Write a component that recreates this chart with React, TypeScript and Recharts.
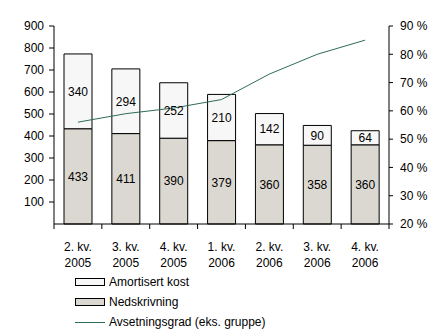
import { Bar, ComposedChart, LabelList, Line, XAxis, YAxis } from "recharts";

const quarters = [
  "2. kv.\n2005",
  "3. kv.\n2005",
  "4. kv.\n2005",
  "1. kv.\n2006",
  "2. kv.\n2006",
  "3. kv.\n2006",
  "4. kv.\n2006",
];
const nedskrivning = [433, 411, 390, 379, 360, 358, 360];
const amortisertKost = [340, 294, 252, 210, 142, 90, 64];
const avsetningsgrad = [56, 59, 61, 64, 73, 80, 85];
const leftTicks = [100, 200, 300, 400, 500, 600, 700, 800, 900];
const rightTicks = [20, 30, 40, 50, 60, 70, 80, 90];

const data = quarters.map((q, i) => ({
  name: q,
  ned: nedskrivning[i],
  amo: amortisertKost[i],
  grad: avsetningsgrad[i],
}));

const FONT = "'Liberation Sans', Arial, sans-serif";
const LINE_COLOR = "#2f6b5a";
const HALF_BAND = 335 / 7 / 2;

function QuarterTick(props: any) {
  const { x, y, payload, index } = props;
  const [a, b] = String(payload.value).split("\n");
  return (
    <g>
      <line x1={x - HALF_BAND} x2={x - HALF_BAND} y1={y} y2={y + 5} stroke="#000" />
      {index === quarters.length - 1 && (
        <line x1={x + HALF_BAND} x2={x + HALF_BAND} y1={y} y2={y + 5} stroke="#000" />
      )}
      <text x={x} y={y + 27} textAnchor="middle" fontSize={12} fill="#000">
        {a}
      </text>
      <text x={x} y={y + 43} textAnchor="middle" fontSize={12} fill="#000">
        {b}
      </text>
    </g>
  );
}

function LegendBox() {
  const row = { position: "absolute" as const, left: 75, height: 14, display: "flex", alignItems: "center", fontSize: 12, fontFamily: FONT, color: "#000" };
  const box = (fill: string) => ({ width: 28, height: 6, border: "1px solid #000", background: fill, marginRight: 4 });
  return (
    <>
      <div style={{ ...row, top: 275 }}>
        <div style={box("#f7f7f7")} />
        <span>Amortisert kost</span>
      </div>
      <div style={{ ...row, top: 295 }}>
        <div style={box("#dbd8d1")} />
        <span>Nedskrivning</span>
      </div>
      <div style={{ ...row, top: 315 }}>
        <div style={{ width: 30, height: 1, background: LINE_COLOR, marginRight: 4 }} />
        <span>Avsetningsgrad (eks. gruppe)</span>
      </div>
    </>
  );
}

export default function App() {
  return (
    <div style={{ position: "absolute", left: 0, top: 0, width: 433, height: 329, background: "#fff" }}>
      <ComposedChart
        width={433}
        height={329}
        data={data}
        margin={{ top: 26, right: 0, bottom: 65, left: 0 }}
        style={{ fontFamily: FONT }}
      >
        <XAxis
          dataKey="name"
          height={40}
          interval={0}
          tickLine={false}
          tickSize={0}
          tickMargin={0}
          stroke="#000"
          tick={<QuarterTick />}
        />
        <YAxis
          yAxisId="left"
          width={54}
          domain={[0, 900]}
          ticks={leftTicks}
          tickSize={5}
          tickMargin={5}
          stroke="#000"
          tick={{ fill: "#000", fontSize: 12 }}
        />
        <YAxis
          yAxisId="right"
          orientation="right"
          width={44}
          domain={[20, 90]}
          ticks={rightTicks}
          tickSize={4}
          tickMargin={7}
          stroke="#000"
          tick={{ fill: "#000", fontSize: 12 }}
          tickFormatter={(v) => `${v} %`}
        />
        <Bar yAxisId="left" dataKey="ned" stackId="s" barSize={28} fill="#dbd8d1" stroke="#000" isAnimationActive={false}>
          <LabelList dataKey="ned" position="center" fill="#000" fontSize={12} />
        </Bar>
        <Bar yAxisId="left" dataKey="amo" stackId="s" barSize={28} fill="#f7f7f7" stroke="#000" isAnimationActive={false}>
          <LabelList dataKey="amo" position="center" fill="#000" fontSize={12} />
        </Bar>
        <Line
          yAxisId="right"
          dataKey="grad"
          type="linear"
          stroke={LINE_COLOR}
          strokeWidth={1}
          dot={false}
          isAnimationActive={false}
        />
      </ComposedChart>
      <LegendBox />
    </div>
  );
}
